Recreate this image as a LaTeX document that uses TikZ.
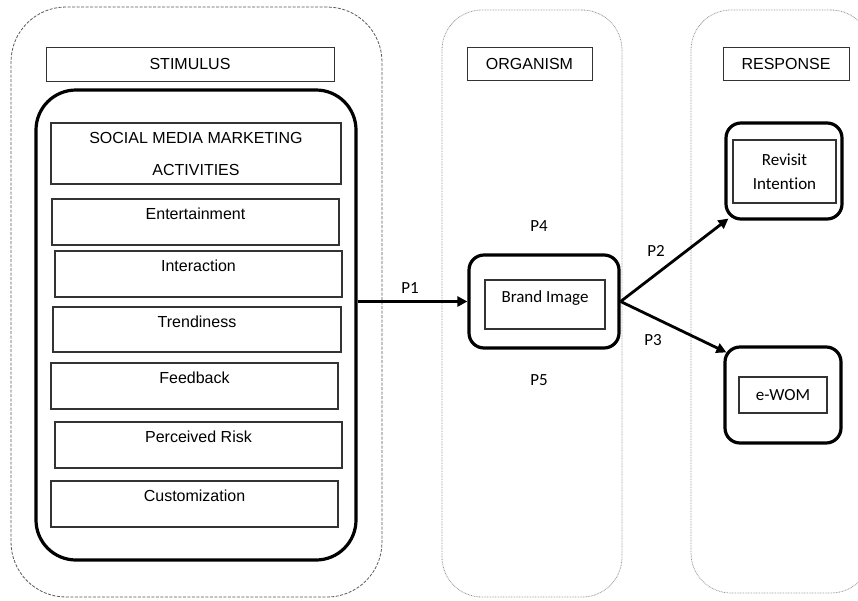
\documentclass[tikz,border=0pt]{standalone}
\usepackage{fontspec}
\setmainfont{Liberation Sans}
\newfontfamily\calibri[Ligatures=NoCommon]{Carlito}
\usetikzlibrary{arrows.meta,calc}
\begin{document}
\begin{tikzpicture}[x=1pt,y=-1pt,
  stimgroup/.style={draw=black!65, line width=0.8pt, dash pattern=on 3pt off 1.5pt, inner sep=0pt},
  dotgroup/.style={draw=black!40, line width=0.8pt, dash pattern=on 0.8pt off 0.8pt, inner sep=0pt},
  hdr/.style={draw=black!80, line width=1pt, inner sep=0pt, font=\fontsize{16}{19}\selectfont},
  itembox/.style={draw=black!80, line width=1.2pt, inner sep=0pt, minimum height=46pt,
     text height=11pt, text depth=16pt, font=\fontsize{16}{19}\selectfont},
  thickbox/.style={draw=black, line width=3.2pt, inner sep=0pt},
  inbox/.style={draw=black!80, line width=1.2pt, inner sep=0pt, font=\calibri\fontsize{17}{24}\selectfont},
  plabel/.style={inner sep=0pt, font=\calibri\fontsize{17}{20}\selectfont},
  arr/.style={line width=2.8pt, -{Triangle[length=10pt,width=10pt]}}
]
\useasboundingbox (0,0) rectangle (858,600);
\clip (0,0) rectangle (858,600);

% group boxes
\node[stimgroup, rounded corners=55pt, minimum width=371pt, minimum height=590pt] (stimgrp) at (196.5,302) {};
\node[dotgroup, rounded corners=40pt, minimum width=180pt, minimum height=587pt] (orggrp) at (532,303.5) {};
\node[dotgroup, rounded corners=40pt, minimum width=180pt, minimum height=583pt] (resgrp) at (781,301.5) {};

% headers
\node[hdr, minimum width=288pt, minimum height=34pt] (stim) at (190,64) {STIMULUS};
\node[hdr, minimum width=125pt, minimum height=33pt] (org) at (529.5,63.5) {ORGANISM};
\node[hdr, minimum width=126pt, minimum height=33pt] (res) at (786,63.5) {RESPONSE};

% stimulus
\node[thickbox, rounded corners=40pt, minimum width=320pt, minimum height=470pt] (smm) at (196,325) {};
\node[hdr, line width=1.2pt, minimum width=290pt, minimum height=61pt, align=center,
      font=\fontsize{16}{32}\selectfont] (smma) at (196,153.5) {SOCIAL MEDIA MARKETING\\ACTIVITIES};
\node[itembox, minimum width=287pt] (ent) at (195.5,222) {Entertainment};
\node[itembox, minimum width=287pt] (inter) at (198.5,274) {Interaction};
\node[itembox, minimum width=288pt, minimum height=45pt] (trend) at (197,329.5) {Trendiness};
\node[itembox, minimum width=287pt] (feed) at (194.5,386) {Feedback};
\node[itembox, minimum width=287pt] (risk) at (198.5,445) {Perceived Risk};
\node[itembox, minimum width=287pt] (cust) at (194.5,504) {Customization};

% organism
\node[thickbox, rounded corners=15pt, minimum width=150pt, minimum height=93pt] (bout) at (544,301.5) {};
\node[inbox, minimum width=120pt, minimum height=49pt, text height=11pt, text depth=16pt] (bin) at (545,304.5) {Brand Image};

% response
\node[thickbox, rounded corners=15pt, minimum width=116pt, minimum height=96pt] (rout) at (784,171) {};
\node[inbox, minimum width=103pt, minimum height=63pt, align=center] (rin) at (784.5,171.5) {Revisit\\Intention};
\node[thickbox, rounded corners=15pt, minimum width=116pt, minimum height=96pt] (eout) at (783,395) {};
\node[inbox, minimum width=88pt, minimum height=36pt] (ein) at (783,395) {e-WOM};

% connectors
\draw[arr] (smm.east |- bout.west) -- (bout.west);
\draw[arr] (bout.east) -- ($(rout.south west)+(4,-2)$);
\draw[arr] (bout.east) -- ($(eout.north west)+(3,7)$);

% labels
\node[plabel] (p1) at (410,288) {P1};
\node[plabel] (p2) at (656,251) {P2};
\node[plabel] (p3) at (653,340) {P3};
\node[plabel] (p4) at (539,226) {P4};
\node[plabel] (p5) at (539,380) {P5};
\end{tikzpicture}
\end{document}
